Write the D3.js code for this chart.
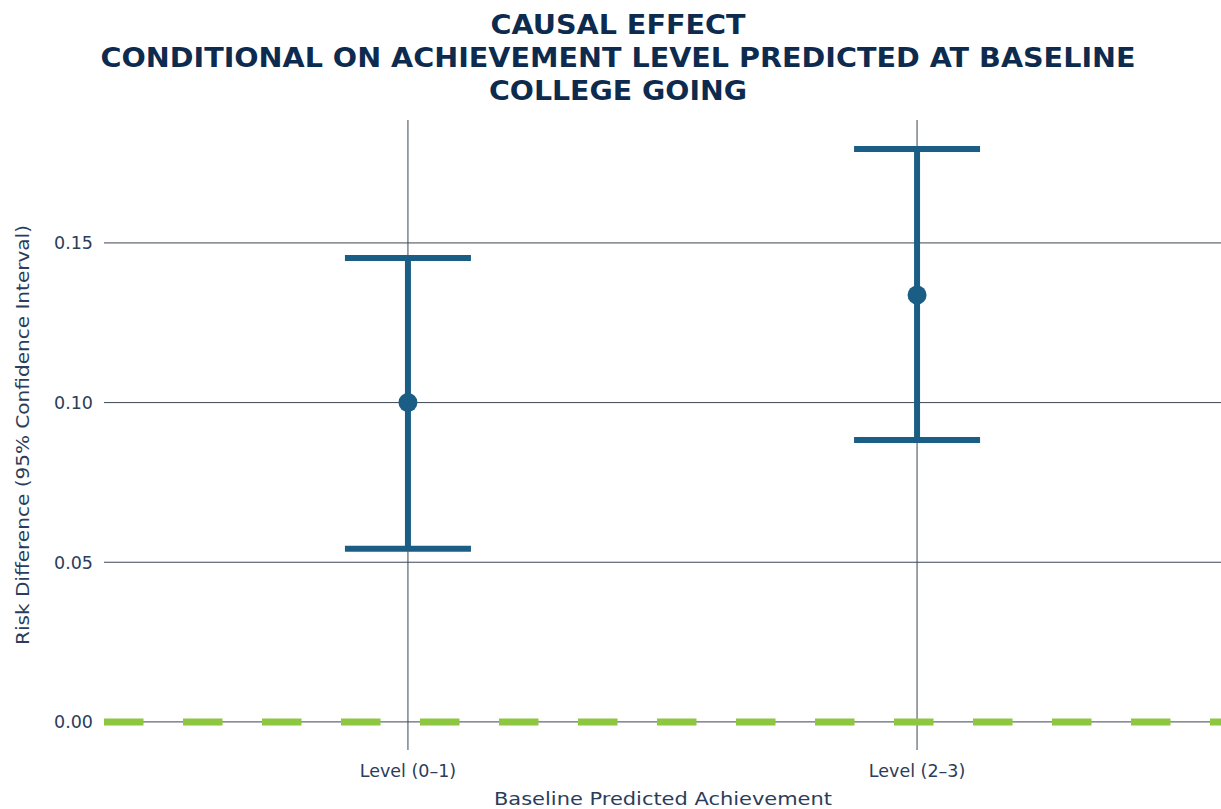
<!DOCTYPE html>
<html>
<head>
<meta charset="utf-8">
<script src="https://cdn.jsdelivr.net/npm/d3@7"></script>
<style>
  html, body { margin: 0; padding: 0; background: #ffffff; }
  svg { display: block; }
  text { font-family: "DejaVu Sans", "Noto Sans", sans-serif; }
</style>
</head>
<body>
<svg id="chart" width="1221" height="809"></svg>
<script>
// Causal effect estimates with 95% confidence intervals, by baseline achievement level
const categories = ["Level (0\u20131)", "Level (2\u20133)"];
const estimates = [0.100, 0.1337];
const lowerCI = [0.0542, 0.0883];
const upperCI = [0.1453, 0.1794];
const yTicks = [0.00, 0.05, 0.10, 0.15];
const titleLines = [
  "CAUSAL EFFECT",
  "CONDITIONAL ON ACHIEVEMENT LEVEL PREDICTED AT BASELINE",
  "COLLEGE GOING"
];
const referenceValue = 0;

const W = 1221, H = 809;
const margin = { top: 120, right: 0, bottom: 59, left: 104 };
const svg = d3.select("#chart");

const x = d3.scalePoint()
  .domain(categories)
  .range([margin.left, W - margin.right])
  .padding(0.597);

const y = d3.scaleLinear()
  .domain([-0.0088, 0.1885])
  .range([H - margin.bottom, margin.top]);

const gridColor = "#3b4656";
const textColor = "#2a3d5a";
const markColor = "#1a5e85";

// horizontal gridlines
svg.append("g")
  .selectAll("line")
  .data(yTicks)
  .join("line")
  .attr("x1", margin.left)
  .attr("x2", W - margin.right)
  .attr("y1", d => y(d))
  .attr("y2", d => y(d))
  .attr("stroke", gridColor)
  .attr("stroke-width", 1);

// vertical gridlines at each category
svg.append("g")
  .selectAll("line")
  .data(categories)
  .join("line")
  .attr("x1", d => x(d))
  .attr("x2", d => x(d))
  .attr("y1", margin.top)
  .attr("y2", H - margin.bottom)
  .attr("stroke", gridColor)
  .attr("stroke-width", 1);

// y tick labels
svg.append("g")
  .selectAll("text")
  .data(yTicks)
  .join("text")
  .attr("x", 93)
  .attr("y", d => y(d))
  .attr("dy", "0.36em")
  .attr("text-anchor", "end")
  .attr("fill", textColor)
  .attr("font-size", 17.5)
  .text(d => d3.format(".2f")(d));

// x tick labels
svg.append("g")
  .selectAll("text")
  .data(categories)
  .join("text")
  .attr("x", d => x(d))
  .attr("y", 777)
  .attr("text-anchor", "middle")
  .attr("fill", textColor)
  .attr("font-size", 17.5)
  .text(d => d);

// axis titles
svg.append("text")
  .attr("x", 663)
  .attr("y", 805)
  .attr("text-anchor", "middle")
  .attr("fill", textColor)
  .attr("font-size", 17.5)
  .attr("textLength", 338)
  .attr("lengthAdjust", "spacingAndGlyphs")
  .text("Baseline Predicted Achievement");

svg.append("text")
  .attr("transform", "translate(29, 435) rotate(-90)")
  .attr("text-anchor", "middle")
  .attr("fill", textColor)
  .attr("font-size", 17.5)
  .attr("textLength", 420)
  .attr("lengthAdjust", "spacingAndGlyphs")
  .text("Risk Difference (95% Confidence Interval)");

// zero reference line (dashed)
svg.append("line")
  .attr("x1", margin.left)
  .attr("x2", W - margin.right)
  .attr("y1", y(referenceValue))
  .attr("y2", y(referenceValue))
  .attr("stroke", "#8dc63f")
  .attr("stroke-width", 7)
  .attr("stroke-dasharray", "39.5 39.5");

// error bars
const rows = categories.map((c, i) => ({ c, est: estimates[i], lo: lowerCI[i], hi: upperCI[i] }));
const capHalf = 63;
const eb = svg.append("g").attr("stroke", markColor).attr("stroke-width", 6);
eb.selectAll(".stem").data(rows).join("line")
  .attr("x1", d => x(d.c)).attr("x2", d => x(d.c))
  .attr("y1", d => y(d.lo)).attr("y2", d => y(d.hi));
eb.selectAll(".capHi").data(rows).join("line")
  .attr("x1", d => x(d.c) - capHalf).attr("x2", d => x(d.c) + capHalf)
  .attr("y1", d => y(d.hi)).attr("y2", d => y(d.hi));
eb.selectAll(".capLo").data(rows).join("line")
  .attr("x1", d => x(d.c) - capHalf).attr("x2", d => x(d.c) + capHalf)
  .attr("y1", d => y(d.lo)).attr("y2", d => y(d.lo));

svg.append("g").selectAll("circle").data(rows).join("circle")
  .attr("cx", d => x(d.c))
  .attr("cy", d => y(d.est))
  .attr("r", 9.5)
  .attr("fill", markColor);

// title
const titleWidths = [255, 1035, 258];
svg.append("g").selectAll("text").data(titleLines).join("text")
  .attr("x", 618)
  .attr("y", (d, i) => 34 + i * 33)
  .attr("text-anchor", "middle")
  .attr("fill", "#0d2b4e")
  .attr("font-size", 27)
  .attr("font-weight", 700)
  .attr("textLength", (d, i) => titleWidths[i])
  .attr("lengthAdjust", "spacingAndGlyphs")
  .text(d => d);
</script>
</body>
</html>
